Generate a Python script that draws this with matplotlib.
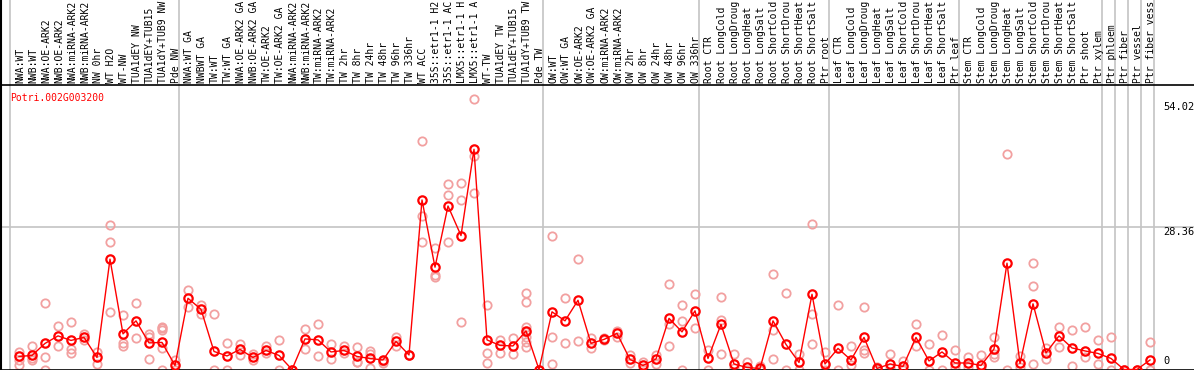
import numpy as np
import matplotlib.pyplot as plt

# column labels, grouped by the grey separators
group_labels = [
    ["NWA:WT", "NWB:WT", "NWA:OE-ARK2", "NWB:OE-ARK2", "NWA:miRNA-ARK2", "NWB:miRNA-ARK2",
     "NW 0hr", "WT H2O", "WT-NW", "TUA1dEY NW", "TUA1dEY+TUB15", "TUA1dY+TUB9 NW", "Pde NW"],
    ["NWA:WT GA", "NWBWT GA", "TW:WT", "TW:WT GA", "NWA:OE-ARK2 GA", "NWB:OE-ARK2 GA",
     "TW:OE-ARK2", "TW:OE-ARK2 GA", "NWA:miRNA-ARK2", "NWB:miRNA-ARK2", "TW:miRNA-ARK2",
     "TW:miRNA-ARK2", "TW 2hr", "TW 8hr", "TW 24hr", "TW 48hr", "TW 96hr", "TW 336hr",
     "WT ACC", "35S::etr1-1 H2", "35S::etr1-1 AC", "LMX5::etr1-1 H", "LMX5::etr1-1 A",
     "WT-TW", "TUA1dEY TW", "TUA1dEY+TUB15", "TUA1dY+TUB9 TW", "Pde TW"],
    ["OW:WT", "OW:WT GA", "OW:OE-ARK2", "OW:OE-ARK2 GA", "OW:miRNA-ARK2", "OW:miRNA-ARK2",
     "OW 2hr", "OW 8hr", "OW 24hr", "OW 48hr", "OW 96hr", "OW 336hr"],
    ["Root CTR", "Root LongCold", "Root LongDroug", "Root LongHeat", "Root LongSalt",
     "Root ShortCold", "Root ShortDrou", "Root ShortHeat", "Root ShortSalt", "Ptr root"],
    ["Leaf CTR", "Leaf LongCold", "Leaf LongDroug", "Leaf LongHeat", "Leaf LongSalt",
     "Leaf ShortCold", "Leaf ShortDrou", "Leaf ShortHeat", "Leaf ShortSalt", "Ptr leaf"],
    ["Stem CTR", "Stem LongCold", "Stem LongDroug", "Stem LongHeat", "Stem LongSalt",
     "Stem ShortCold", "Stem ShortDrou", "Stem ShortHeat", "Stem ShortSalt", "Ptr shoot", "Ptr xylem"],
    ["Ptr phloem"],
    ["Ptr fiber"],
    ["Ptr vessel"],
    ["Ptr fiber vess"],
]

gene = "Potri.002G003200"

# mean expression per column
mean_values = [
    2.6, 2.8, 5.2, 6.7, 5.8, 6.4, 2.4, 22.0, 7.1, 9.7, 5.3, 5.4, 0.8,
    14.2, 12.0, 3.6, 2.7, 4.0, 2.4, 3.8, 2.8, 0.0, 6.1, 5.9, 3.5, 3.8, 2.6, 2.2, 1.9,
    5.6, 2.9, 33.8, 20.4, 32.6, 26.7, 43.9, 5.9, 4.8, 4.7, 7.7, 0.0,
    11.5, 9.7, 13.8, 5.2, 6.0, 7.2, 2.0, 0.8, 2.1, 10.2, 7.5, 11.7,
    2.2, 9.0, 1.1, 0.4, 0.2, 9.7, 5.0, 1.4, 15.0, 1.1,
    4.2, 1.9, 6.4, 0.2, 1.1, 0.6, 6.4, 1.7, 3.5, 1.3,
    1.3, 0.8, 4.1, 21.2, 1.2, 13.1, 3.3, 6.7, 4.3, 3.7, 3.2, 2.2,
    0.0, 0.0, 1.9,
]

# individual replicates per column
replicates = [
    [3.5, 1.8, 0.8], [4.7, 2.2, 1.9], [13.2, 2.4, 0.0], [8.6, 4.7], [9.5, 4.0, 3.2],
    [7.0, 5.9], [3.5, 1.1], [28.9, 25.4, 11.5], [10.8, 5.2, 4.7], [13.2, 6.3],
    [7.1, 6.5, 2.0], [8.5, 8.2, 7.9, 4.2, 0.0], [1.9, 0.0],
    [15.9, 12.4], [12.9, 11.1], [11.1, 0.0], [5.2, 0.0], [5.1, 2.8], [3.0, 1.9],
    [4.7, 3.2], [5.9, 0.0], [0.0, 0.0], [8.1, 4.0], [9.0, 2.7], [5.0, 2.0], [4.7, 3.2],
    [4.4, 1.5, 1.4], [3.6, 3.1, 0.2], [1.6, 1.2], [6.5, 4.7], [2.9, 2.9],
    [45.5, 30.6, 25.4], [24.2, 18.8, 18.4], [36.9, 34.7, 25.5], [37.2, 33.8, 9.5],
    [54.02, 42.6, 35.1], [12.9, 3.2, 1.2], [5.9, 3.2], [6.2, 3.1],
    [15.2, 13.5, 8.5, 7.5, 6.5, 5.5, 4.5], [0.0, 0.0],
    [26.7, 6.5, 1.0], [14.2, 5.2], [22.0, 5.6],
    [6.2, 4.2], [6.2, 5.8], [7.7, 6.5], [2.9, 1.2], [1.4, 0.3], [2.9, 1.0],
    [17.0, 9.1, 4.7], [12.9, 9.7, 0.0], [15.0, 8.2],
    [3.8, 0.0], [14.4, 9.9, 3.0], [3.0, 0.3], [1.4, 0.0], [0.6, 0.0], [19.0, 7.9, 2.0],
    [15.2, 0.0], [3.0, 0.0], [29.1, 11.1, 5.0], [3.5, 0.0],
    [12.9, 0.0], [4.7, 0.9], [12.4, 3.8, 3.2], [0.5, 0.0], [3.1, 0.3], [1.7, 0.0],
    [9.0, 4.6], [5.0, 0.0], [6.8, 0.0], [3.9, 0.5],
    [2.4, 0.5], [2.8, 0.3], [6.5, 3.1, 2.4], [42.9, 0.0], [2.6, 0.5], [21.2, 16.6, 1.1],
    [4.2, 2.0], [8.4, 4.4], [7.9, 0.7], [8.4, 2.4], [5.9, 1.1], [6.4, 0.0],
    [0.0, 0.0], [0.0, 0.0], [5.4, 0.0],
]

labels = [lab for grp in group_labels for lab in grp]
n = len(labels)
x = np.arange(n)
y_max = max(max(r) for r in replicates)
y_top = y_max * 1.05

fig = plt.figure(figsize=(11.94, 3.70), dpi=100)
W, H = 1194, 370
# plot area in pixels: x 1..1194, y 85..369.5
ax = fig.add_axes([1 / W, (H - 369.5) / H, 1193 / W, (369.5 - 85) / H])
ax.set_xlim((1 - 19) / 13, (1194 - 19) / 13)
ax.set_ylim(0, y_top)
ax.set_xticks([])
ax.set_yticks([])
for s in ["left", "bottom", "top"]:
    ax.spines[s].set_color("black")
    ax.spines[s].set_linewidth(1.2)
ax.spines["right"].set_visible(False)

grey = "#c4c4c4"
head = 369.5 / (369.5 - 85)  # axes fraction of the figure top
ax.axhline(y_top / 2, color=grey, lw=1.2, zorder=0)

# group separators
bounds = np.cumsum([0] + [len(g) for g in group_labels])
for b in bounds:
    ax.axvline(b - 9 / 13, ymin=0, ymax=head, color=grey, lw=1.2, clip_on=False, zorder=0)
ax.axvline(ax.get_xlim()[0], ymin=0, ymax=head, color="black", lw=1.5, clip_on=False)

# replicates
for i, reps in enumerate(replicates):
    ax.plot([x[i]] * len(reps), reps, "o", ms=6, mfc="none", mec="#f2a0a0",
            mew=1.3, zorder=2)

# mean line
ax.plot(x, mean_values, "-", color="red", lw=1.0, zorder=3)
ax.plot(x, mean_values, "o", ms=6, mfc="none", mec="red", mew=1.6, zorder=4)

mono = "DejaVu Sans Mono"
for i, lab in enumerate(labels):
    ax.text(x[i] + 0.08, (369.5 - 83) / (369.5 - 85), lab, rotation=90, ha="center",
            va="bottom", fontsize=7, family=mono,
            transform=ax.get_xaxis_transform(), clip_on=False)

ax.text(9 / 1193, (369.5 - 98) / (369.5 - 85), gene, color="red", fontsize=7,
        family=mono, va="center", ha="left", transform=ax.transAxes)

tick_x = (1163 - 19) / 13
ax.annotate(f"{y_max:.2f}", (tick_x, y_max), xytext=(0, -8), textcoords="offset pixels",
            fontsize=7.5, family=mono, va="center", ha="left", annotation_clip=False)
ax.annotate(f"{y_top / 2:.2f}", (tick_x, y_top / 2), xytext=(0, -5), textcoords="offset pixels",
            fontsize=7.5, family=mono, va="center", ha="left", annotation_clip=False)
ax.annotate("0", (tick_x, 0), xytext=(0, 8), textcoords="offset pixels",
            fontsize=7.5, family=mono, va="center", ha="left", annotation_clip=False)

fig.savefig("out.png", dpi=100)
